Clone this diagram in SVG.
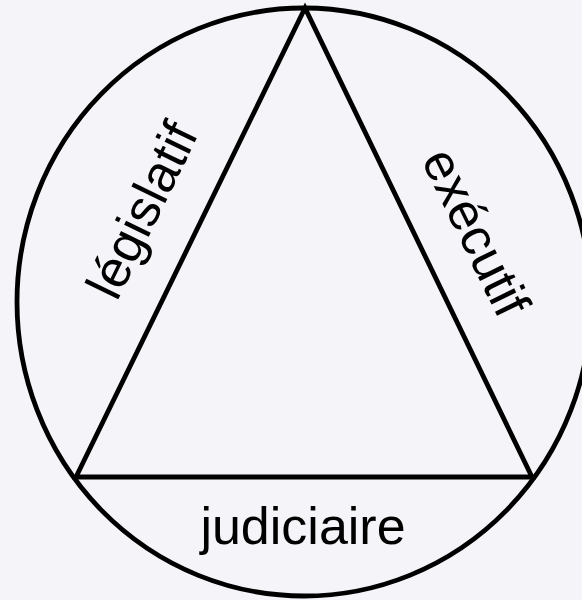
<svg xmlns="http://www.w3.org/2000/svg" width="582" height="600" viewBox="0 0 582 600">
<style>
.ln{fill:none;stroke:#000;stroke-width:4.8;stroke-linejoin:miter}
.lb{font-family:"Liberation Sans",Arial,sans-serif;font-size:52px;fill:#000;text-anchor:middle}
</style>
<rect width="582" height="600" fill="#f4f4f9"/>
<g id="circle"><ellipse class="ln" cx="304" cy="302" rx="287" ry="294"/></g>
<g id="connectors"><polygon class="ln" points="305,8 76,477 532,477"/></g>
<g id="legislatif"><text class="lb" transform="translate(158,218) rotate(-64)">législatif</text></g>
<g id="executif"><text class="lb" transform="translate(460,240) rotate(64)">exécutif</text></g>
<g id="judiciaire"><text class="lb" x="303" y="544">judiciaire</text></g>
</svg>
